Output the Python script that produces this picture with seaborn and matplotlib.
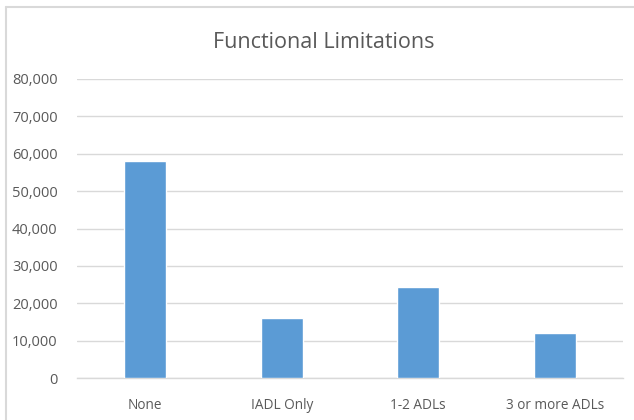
import matplotlib
matplotlib.use("Agg")
import matplotlib.pyplot as plt
from matplotlib.lines import Line2D
from matplotlib.ticker import FuncFormatter
import pandas as pd
import seaborn as sns

categories = ["None", "IADL Only", "1-2 ADLs", "3 or more ADLs"]
counts = [58000, 16000, 24500, 12200]
y_ticks = [0, 10000, 20000, 30000, 40000, 50000, 60000, 70000, 80000]

df = pd.DataFrame({"category": categories, "count": counts})

sns.set_theme(style="white")
plt.rcParams["font.family"] = ["Open Sans", "DejaVu Sans"]

text_color = "#595959"
grid_color = "#D9D9D9"

fig = plt.figure(figsize=(6.34, 4.2), dpi=100)
ax = fig.add_axes([77 / 634, (420 - 378.3) / 420, (623 - 77) / 634, (378.3 - 78.7) / 420])

sns.barplot(data=df, x="category", y="count", color="#5B9BD5", width=0.31,
            saturation=1, ax=ax, zorder=3)

ax.set_ylim(0, 80000)
ax.set_xlim(-0.5, len(categories) - 0.5)
ax.set_yticks(y_ticks)
ax.yaxis.set_major_formatter(FuncFormatter(lambda v, p: f"{int(v):,}"))
ax.grid(axis="y", color=grid_color, linewidth=1, zorder=0)
ax.set_axisbelow(True)
for side in ["top", "right", "left"]:
    ax.spines[side].set_visible(False)
ax.spines["bottom"].set_color(grid_color)
ax.spines["bottom"].set_linewidth(1)
ax.tick_params(axis="y", length=0, pad=14, labelsize=10.5, labelcolor=text_color)
ax.tick_params(axis="x", length=0, pad=14, labelsize=9.8, labelcolor=text_color)
ax.set_xlabel("")
ax.set_ylabel("")

fig.text(323.5 / 634, 1 - 42 / 420, "Functional Limitations", ha="center", va="center",
         fontsize=15.5, color=text_color)

# chart frame
fig.add_artist(Line2D([6 / 634, 1], [1 - 7 / 420, 1 - 7 / 420], transform=fig.transFigure,
                      color="#D9D9D9", linewidth=1.5))
fig.add_artist(Line2D([6 / 634, 6 / 634], [0, 1 - 7 / 420], transform=fig.transFigure,
                      color="#D9D9D9", linewidth=1.5))

fig.savefig("out.png", dpi=100, facecolor="white")
